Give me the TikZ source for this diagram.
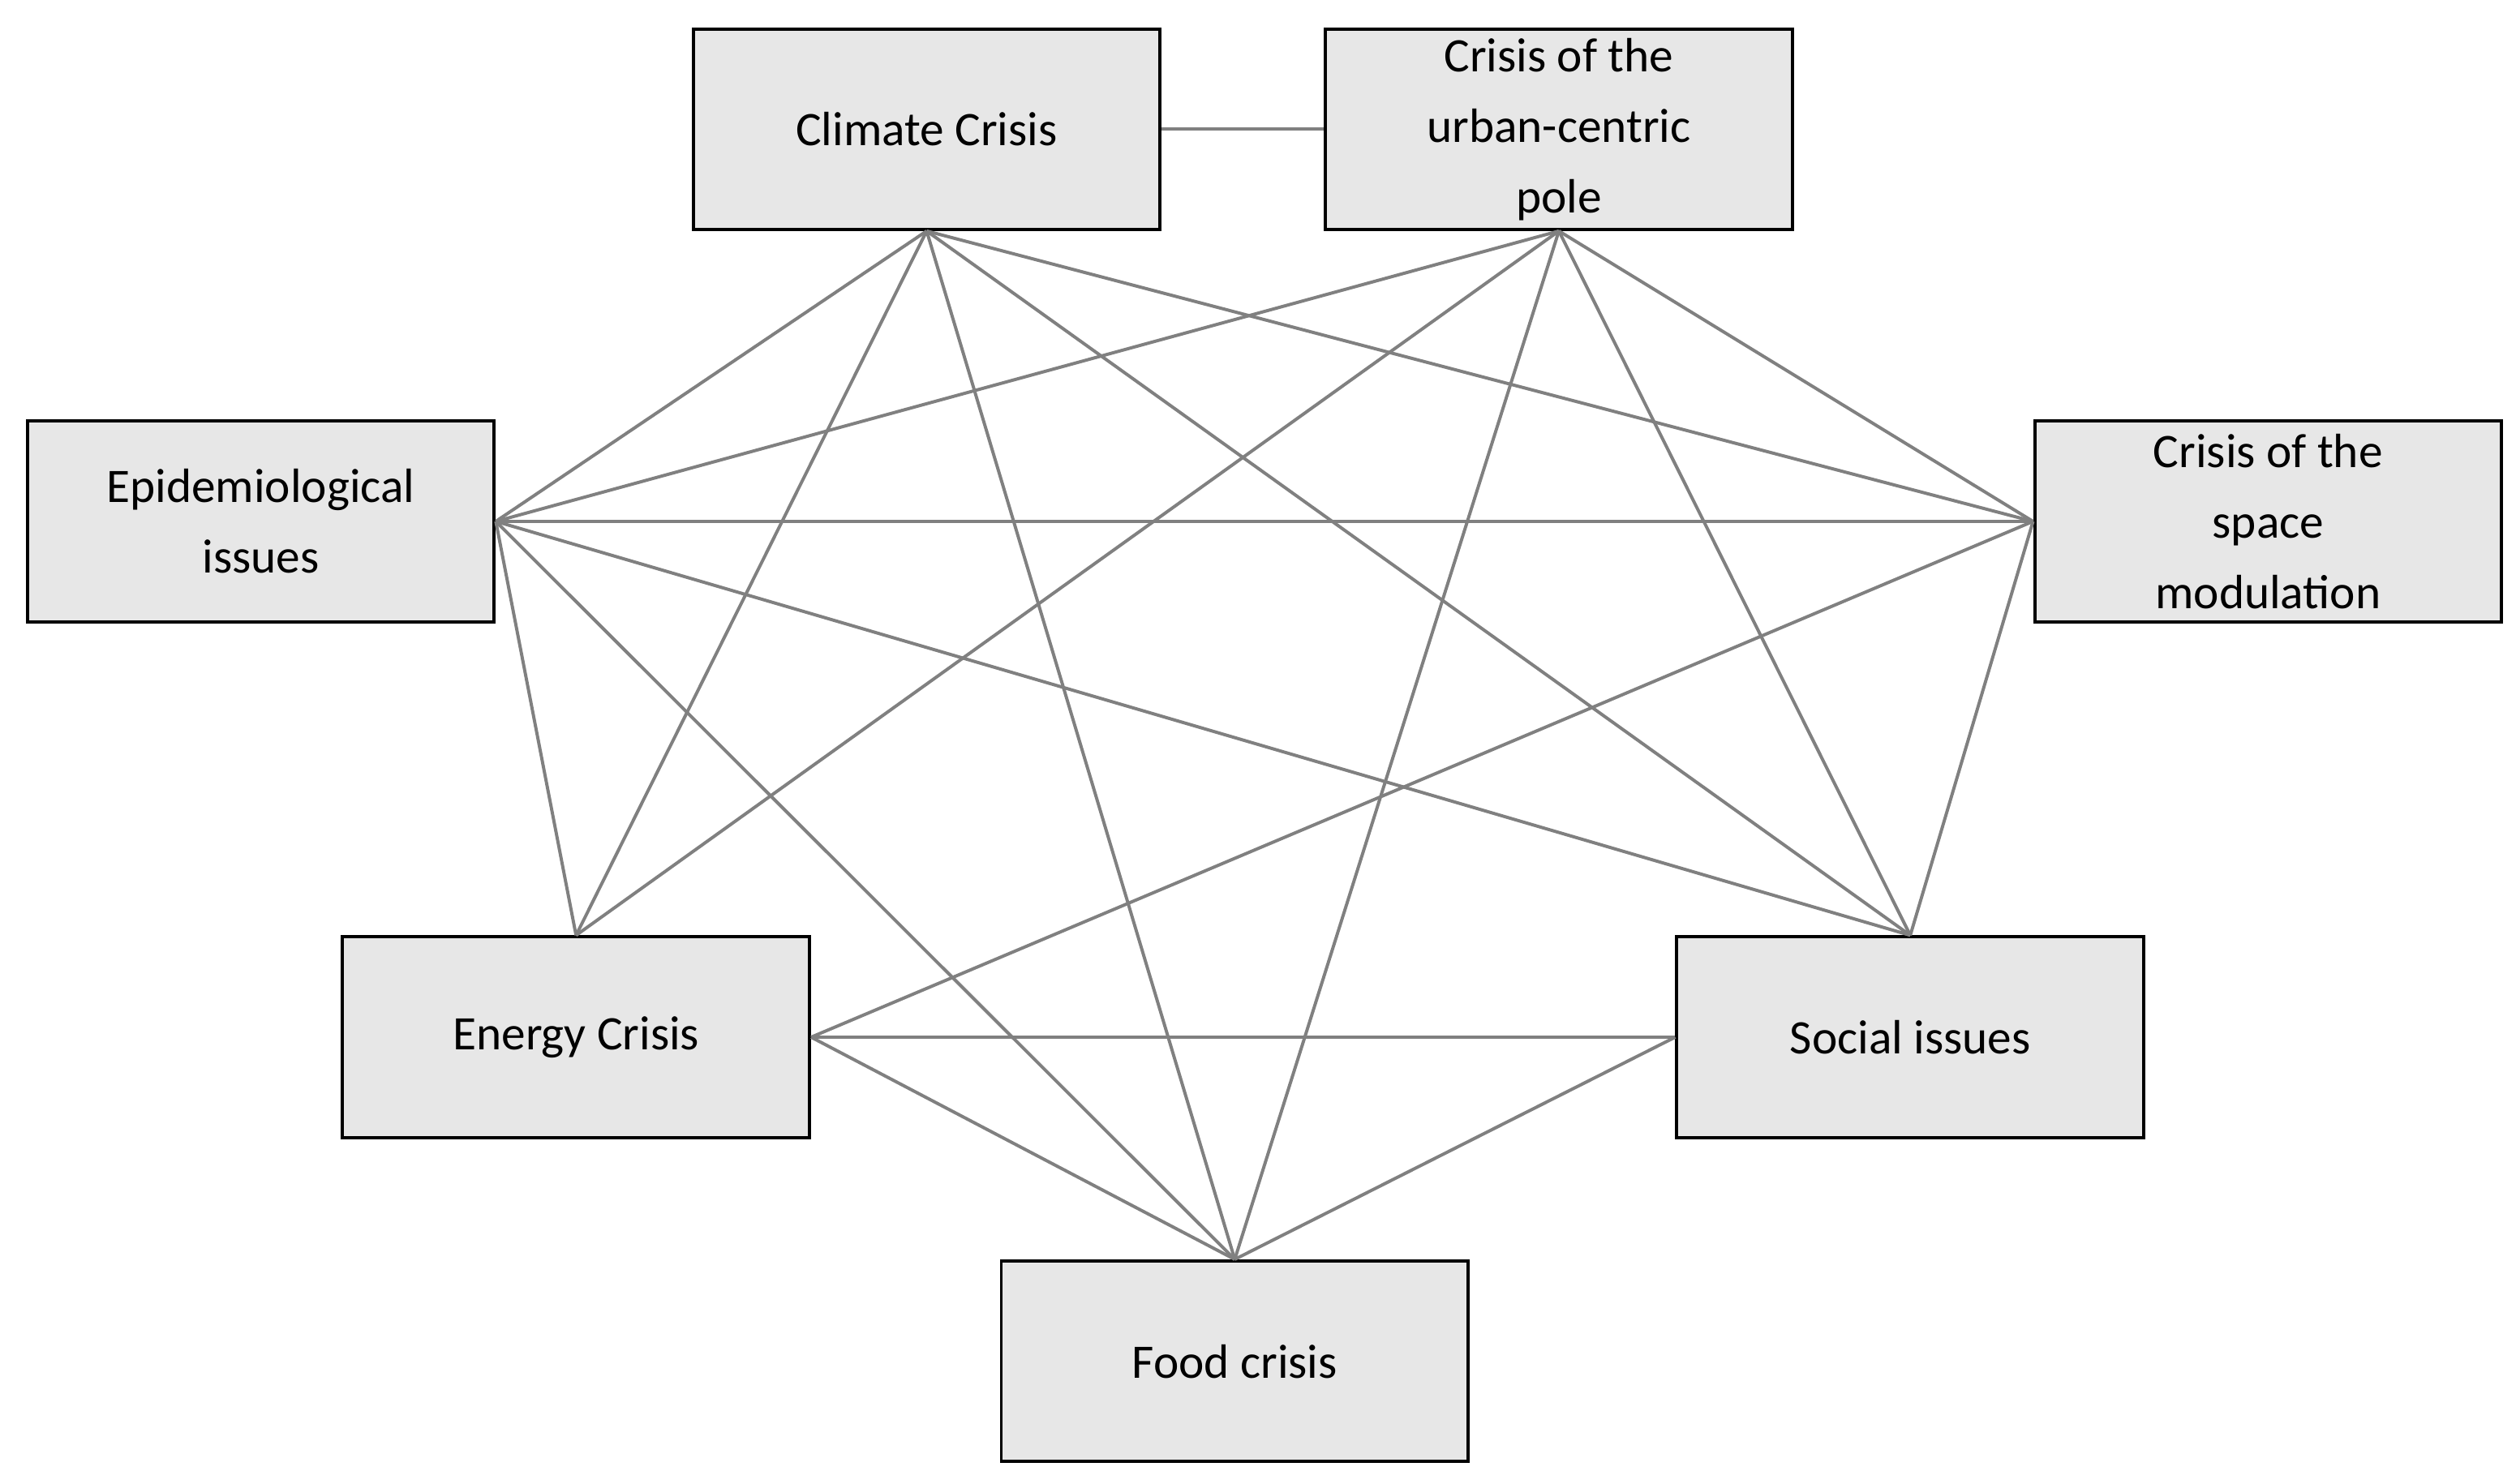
\documentclass[tikz,border=0pt]{standalone}
\usepackage{fontspec}
\setmainfont{Carlito}
\begin{document}
\begin{tikzpicture}[x=1pt,y=-1pt,
  box/.style={draw=black,line width=2pt,fill={rgb,255:red,231;green,231;blue,231},minimum width=291pt,minimum height=125pt,inner sep=0pt,align=center,font=\fontsize{30}{44}\selectfont},
  ln/.style={draw={rgb,255:red,128;green,128;blue,128},line width=2pt}]
\useasboundingbox (0,0) rectangle (1568,925);
\node[box] (cl) at (577.5,80.5) {Climate Crisis};
\node[box] (ur) at (971.5,80.5) {Crisis of the\\urban-centric\\pole};
\node[box] (ep) at (162.5,325) {Epidemiological\\issues};
\node[box] (sp) at (1413.5,325) {Crisis of the\\space\\modulation};
\node[box] (en) at (359,646.5) {Energy Crisis};
\node[box] (so) at (1190.5,646.5) {Social issues};
\node[box] (fo) at (769.5,848.5) {Food crisis};
\begin{scope}[on background layer/.style={}]
\draw[ln] (cl.east) -- (ur.west);
\foreach \t in {ep.east,en.north,fo.north,so.north,sp.west}{
  \draw[ln] (cl.south) -- (\t);
  \draw[ln] (ur.south) -- (\t);
}
\foreach \t in {sp.west,en.north,fo.north,so.north}{\draw[ln] (ep.east) -- (\t);}
\draw[ln] (sp.west) -- (en.east);
\draw[ln] (sp.west) -- (so.north);
\draw[ln] (en.east) -- (so.west);
\draw[ln] (en.east) -- (fo.north);
\draw[ln] (so.west) -- (fo.north);
\end{scope}
\end{tikzpicture}
\end{document}
